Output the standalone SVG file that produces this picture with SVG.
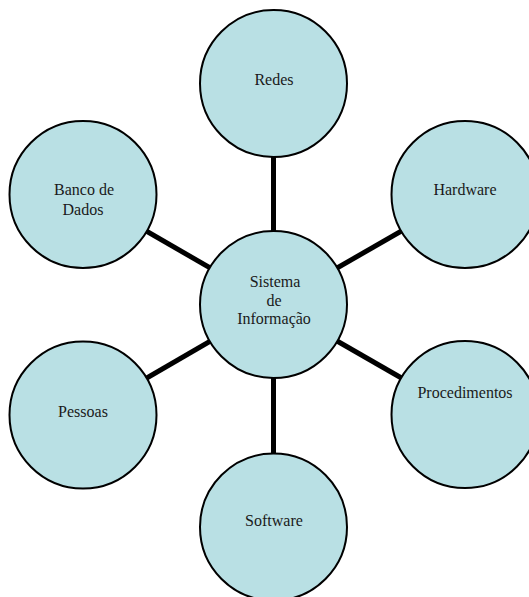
<svg xmlns="http://www.w3.org/2000/svg" width="529" height="597" viewBox="0 0 529 597">
<style>
.node circle{fill:#b9e0e4;stroke:#000;stroke-width:2}
.node text{font-family:"Liberation Serif","Times New Roman",serif;font-size:16px;fill:#1a1a1a;text-anchor:middle}
.conn line{stroke:#000;stroke-width:5}
</style>
<rect width="529" height="597" fill="#fff"/>
<g id="connectors" class="conn">
<line x1="273.5" y1="304.5" x2="273.5" y2="83.5"/>
<line x1="273.5" y1="304.5" x2="465" y2="194.5"/>
<line x1="273.5" y1="304.5" x2="465" y2="414.5"/>
<line x1="273.5" y1="304.5" x2="273.5" y2="527"/>
<line x1="273.5" y1="304.5" x2="83" y2="415"/>
<line x1="273.5" y1="304.5" x2="83" y2="194.5"/>
</g>
<g id="redes" class="node"><circle cx="273.5" cy="83.5" r="73.5"/><text x="274" y="85">Redes</text></g>
<g id="hardware" class="node"><circle cx="465" cy="194.5" r="73.5"/><text x="465" y="195">Hardware</text></g>
<g id="procedimentos" class="node"><circle cx="465" cy="414.5" r="73.5"/><text x="465" y="398">Procedimentos</text></g>
<g id="software" class="node"><circle cx="273.5" cy="527" r="73.5"/><text x="274" y="526">Software</text></g>
<g id="pessoas" class="node"><circle cx="83" cy="415" r="73.5"/><text x="83" y="417">Pessoas</text></g>
<g id="banco" class="node"><circle cx="83" cy="194.5" r="73.5"/><text x="84" y="195">Banco de</text><text x="83" y="215">Dados</text></g>
<g id="sistema" class="node"><circle cx="273.5" cy="304.5" r="73.5"/><text x="275" y="287">Sistema</text><text x="274" y="305.5">de</text><text x="274" y="324">Informação</text></g>
</svg>
